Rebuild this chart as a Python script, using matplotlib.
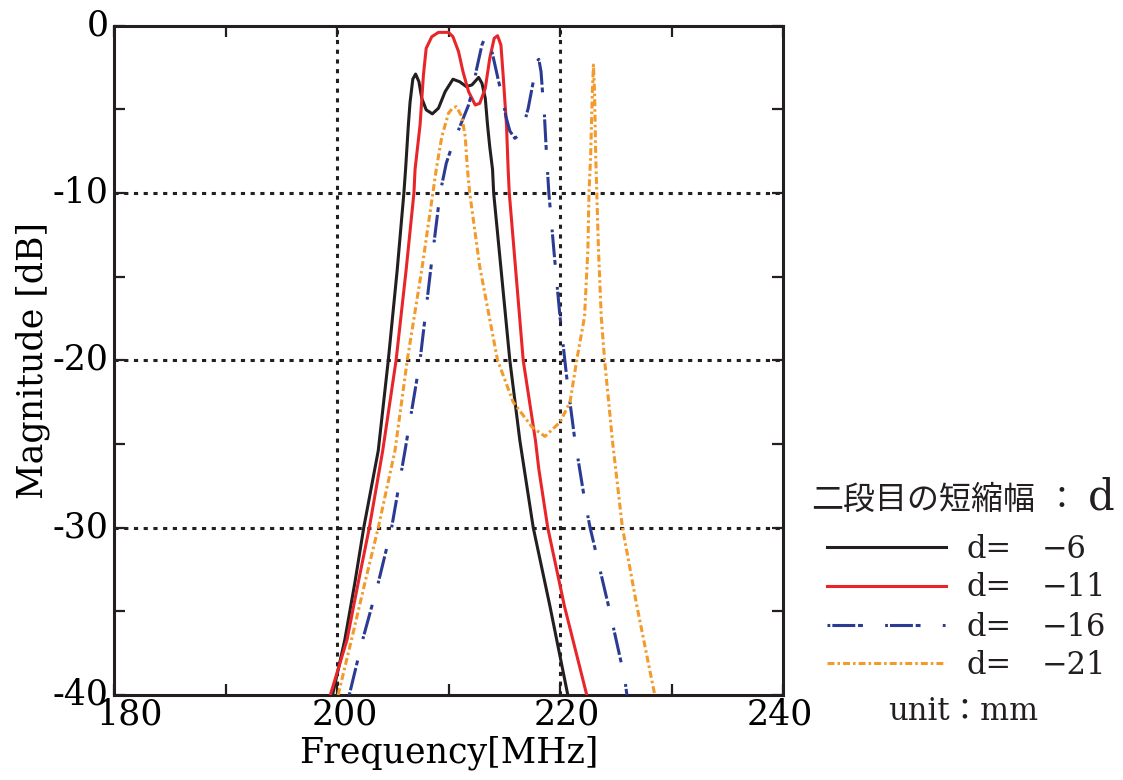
import matplotlib
matplotlib.use("Agg")
import matplotlib.pyplot as plt
from matplotlib.lines import Line2D
from matplotlib.transforms import ScaledTranslation

plt.rcParams['font.family'] = ['DejaVu Serif', 'Noto Sans CJK JP']
plt.rcParams['lines.scale_dashes'] = False

# ---------------- data ----------------
black_f = [199.6, 200.7, 201.6, 202.4, 203.7, 204.6, 205.4, 206.0, 206.15, 206.4, 206.55, 206.8,
           207.05, 207.35, 207.6, 208.0, 208.55, 209.1, 209.7, 210.4, 211.0, 211.6, 212.1, 212.7,
           213.0, 213.3, 213.5, 213.7, 213.95, 214.05, 215.5, 216.4, 217.6, 219.1, 220.7]
black_db = [-40, -36.7, -33.3, -30, -25.4, -20, -14.6, -10, -8.6, -5.94, -4.6, -3.2,
            -2.9, -3.36, -4.35, -5.04, -5.28, -4.94, -3.95, -3.21, -3.36, -3.65, -3.55, -3.1,
            -3.45, -4.35, -5.94, -7.25, -8.6, -10, -20, -24.8, -30, -34.7, -40]

red_f = [199.4, 200.9, 201.9, 202.9, 204.1, 205.3, 206.2, 206.9, 207.0, 207.45, 207.75, 208.0,
         208.5, 209.1, 210.0, 210.4, 210.9, 211.3, 211.8, 212.4, 212.8, 213.3, 213.7, 214.1,
         214.4, 214.7, 214.9, 215.1, 215.2, 215.35, 215.45, 216.7, 217.8, 218.1, 218.9, 220.4,
         222.4]
red_db = [-40, -36.7, -33.3, -30, -25.4, -20, -14.6, -10, -8.6, -5.94, -2.96, -1.36,
          -0.67, -0.41, -0.41, -0.67, -1.56, -2.76, -3.95, -4.75, -4.65, -3.75, -1.96, -0.76,
          -0.61, -1.16, -2.96, -4.94, -5.94, -8.6, -10, -20, -24.8, -26.5, -30, -34.7,
          -40]

blue_f = [201.1, 202.3, 203.7, 204.9, 206.1, 207.45, 208.4, 209.25, 209.8, 210.3, 210.9, 211.8,
          212.2, 212.5, 213.0, 213.3, 213.6, 214.0, 214.5, 214.8, 215.15, 215.5, 215.95, 216.55,
          217.15, 217.6, 217.9, 218.1, 218.3, 218.45, 218.6, 218.8, 219.0, 219.5, 220.0, 220.6,
          221.3, 222.2, 222.7, 224.5, 225.8, 226.0]
blue_db = [-40, -36.7, -33.3, -30, -25.4, -20, -14.6, -10, -8.23, -7.24, -6.24, -4.75,
           -3.75, -2.66, -1.16, -0.67, -0.76, -1.86, -3.36, -4.15, -5.44, -6.3, -6.74, -6.44,
           -4.94, -3.36, -2.16, -2.02, -2.76, -4.15, -5.34, -7.83, -10, -13.8, -17.4, -21,
           -24.6, -28.3, -30, -35.1, -39, -40]

orange_f = [200.1, 201.3, 202.5, 203.7, 205.2, 206.3, 207.6, 208.6, 208.9, 209.4, 210.0, 210.35,
            210.7, 211.2, 211.5, 211.7, 211.9, 212.8, 214.4, 215.8, 217.5, 218.65, 220.0, 220.9,
            221.5, 222.2, 222.5, 222.6, 222.75, 222.9, 223.0, 223.1, 223.2, 223.3, 223.45, 223.7,
            224.0, 224.5, 224.7, 225.6, 226.9, 228.5]
orange_db = [-40, -36.7, -33.3, -30, -25.4, -20, -14.6, -10, -8.6, -6.64, -5.24, -4.95,
             -4.85, -5.44, -6.64, -8.6, -10, -14.4, -20, -22.5, -24.0, -24.55, -23.7, -22.5,
             -20, -17.4, -13.4, -10, -7.75, -4.0, -2.36, -4.0, -7.75, -10, -13.4, -17.4,
             -20, -23.4, -24.8, -30, -34.7, -40]

series_labels = ["\u22126", "\u221211", "\u221216", "\u221221"]
x_ticks = [180, 200, 220, 240]
y_ticks = [0, -10, -20, -30, -40]
y_ticklabels = ["0", "-10", "-20", "-30", "-40"]

colors = ["#231f20", "#e8262a", "#2b3a93", "#f39a2b"]
styles = ["-", "-", (0, (2, 1.5, 16.5, 2, 3.5, 16)), (0, (5, 2.2, 1.8, 2.2))]

W, H = 1123, 780
fig = plt.figure(figsize=(W / 100, H / 100), dpi=100)
ax = fig.add_axes([114 / W, 1 - 695 / H, (783 - 114) / W, (695 - 25.5) / H])

all_f = [black_f, red_f, blue_f, orange_f]
all_db = [black_db, red_db, blue_db, orange_db]
for f, d, c, s in zip(all_f, all_db, colors, styles):
    ax.plot(f, d, color=c, linestyle=s, linewidth=2.2, zorder=3,
            solid_joinstyle="round", dash_joinstyle="round")

ax.set_xlim(180, 240)
ax.set_ylim(-40, 0)

for gx in [200, 220]:
    ax.axvline(gx, color="#231f20", linestyle=(0, (3, 4)), linewidth=2.2, zorder=1)
for gy in [-10, -20, -30]:
    ax.axhline(gy, color="#231f20", linestyle=(0, (3, 4)), linewidth=2.2, zorder=1)

ax.set_xticks(x_ticks)
ax.set_xticks([190, 210, 230], minor=True)
ax.set_yticks(y_ticks)
ax.set_yticklabels(y_ticklabels)
ax.set_yticks([-5, -15, -25, -35], minor=True)
ax.tick_params(which="both", direction="in", top=True, right=True, length=8, width=1.6,
               color="#231f20")
ax.tick_params(axis="x", labelsize=25, pad=2)
ax.tick_params(axis="y", labelsize=25, pad=4)
up = ScaledTranslation(0, 0.04, fig.dpi_scale_trans)
for lab in ax.get_yticklabels():
    lab.set_transform(lab.get_transform() + up)
x_shift_px = [16, 8, 7, -3]
for lab, dx in zip(ax.get_xticklabels(), x_shift_px):
    lab.set_transform(lab.get_transform() + ScaledTranslation(dx / 100, 0, fig.dpi_scale_trans))
for sp in ax.spines.values():
    sp.set_linewidth(2.2)
    sp.set_color("#231f20")

ax.set_xlabel("Frequency[MHz]", fontsize=25, labelpad=3)
ax.set_ylabel("Magnitude [dB]", fontsize=25, labelpad=2)

# ---------------- manual legend ----------------
def fy(y):
    return 1 - y / H

fig.text(811 / W, fy(500), "二段目の短縮幅", fontsize=23, family="Noto Sans CJK JP",
         ha="left", va="center", color="#231f20")
fig.text(1061 / W, fy(500), "：", fontsize=23, family="Noto Sans CJK JP",
         ha="center", va="center", color="#231f20")
fig.text(1088 / W, fy(498), "d", fontsize=30, ha="left", va="center", color="#231f20")

rows = [547, 586, 625, 663]
for r, c, s, lab in zip(rows, colors, styles, series_labels):
    fig.add_artist(Line2D([827 / W, 946 / W], [fy(r), fy(r)], transform=fig.transFigure,
                          color=c, linestyle=s, linewidth=2.2))
    fig.text(966 / W, fy(r + 2), "d=", fontsize=22, ha="left", va="center", color="#231f20")
    fig.text(1042 / W, fy(r + 2), lab, fontsize=22, ha="left", va="center", color="#231f20")

fig.text(888 / W, fy(712), "unit：mm", fontsize=22, ha="left", va="center", color="#231f20")

fig.savefig("out.png", dpi=100)
